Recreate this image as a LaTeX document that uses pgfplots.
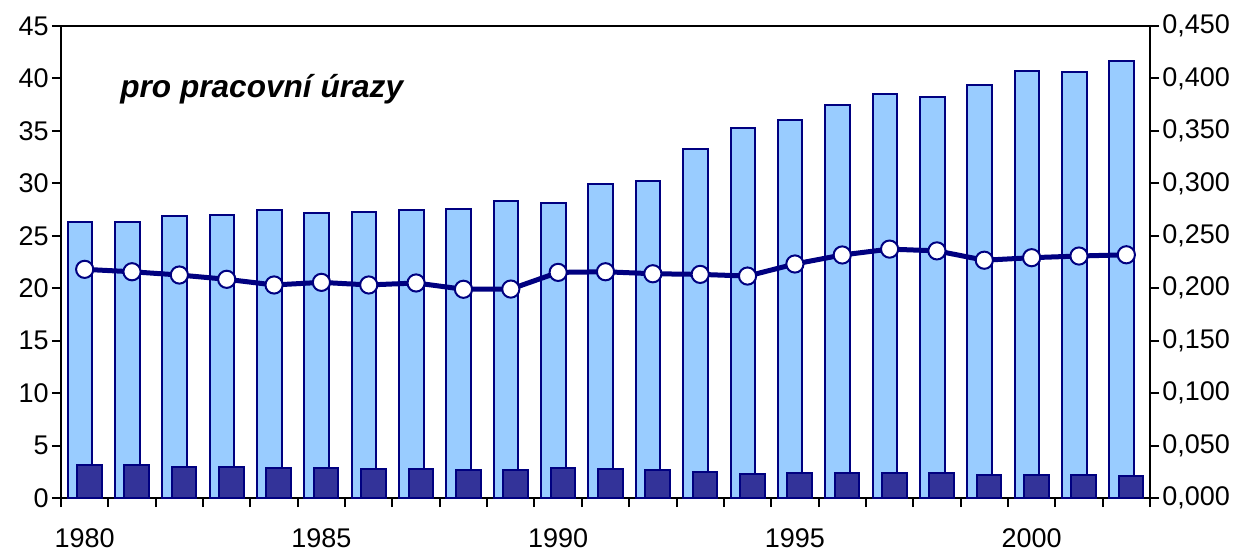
\documentclass[border=0pt]{standalone}
\usepackage{pgfplots}
\pgfplotsset{compat=1.18}
\usepackage{fontspec}
\setmainfont{Liberation Sans}
\definecolor{lightbar}{HTML}{99CCFF}
\definecolor{darkbar}{HTML}{333399}
\definecolor{navy}{HTML}{000080}
\pgfplotstableread{
x year light dark line
0 1980 26.3 3.10 0.218
1 1981 26.3 3.10 0.2157
2 1982 26.9 2.98 0.2126
3 1983 27.0 2.92 0.2085
4 1984 27.45 2.83 0.2031
5 1985 27.2 2.86 0.2056
6 1986 27.25 2.80 0.2031
7 1987 27.45 2.80 0.2050
8 1988 27.55 2.70 0.1990
9 1989 28.3 2.64 0.1992
10 1990 28.1 2.86 0.2151
11 1991 29.9 2.73 0.2157
12 1992 30.2 2.67 0.2138
13 1993 33.27 2.45 0.2132
14 1994 35.24 2.32 0.2116
15 1995 36.03 2.38 0.2231
16 1996 37.43 2.38 0.2317
17 1997 38.48 2.38 0.2373
18 1998 38.23 2.38 0.2356
19 1999 39.37 2.22 0.2267
20 2000 40.7 2.16 0.2291
21 2001 40.6 2.16 0.2307
22 2002 41.66 2.13 0.2319
}\datatable
\begin{document}
\begin{tikzpicture}
\pgfplotsset{
  every axis/.append style={
    scale only axis, width=544.5pt, height=236pt,
    xmin=-0.5, xmax=22.5,
    font=\fontsize{13.5}{15}\selectfont,
    tick label style={font=\fontsize{13.5}{15}\selectfont},
    axis line style={line width=1pt, black},
    tick style={line width=1pt, black},
    major tick length=4.5pt,
    tick align=outside,
    /pgf/number format/assume math mode=true,
  }
}
\begin{axis}[
  ymin=0, ymax=45,
  ytick={0,5,...,45},
  ytick pos=left,
  xtick pos=bottom,
  xtick={-0.5,0.5,...,22.5},
  xticklabels={},
  extra x ticks={0,5,10,15,20},
  extra x tick labels={1980,1985,1990,1995,2000},
  extra x tick style={major tick length=0pt, xticklabel style={inner sep=0pt, yshift=-15pt}},
  yticklabel style={inner sep=1.5pt},
  clip=false,
]
\addplot[ybar, bar width=0.52, bar shift=-0.1, fill=lightbar, draw=navy, line width=1pt] table[x=x, y=light] {\datatable};
\addplot[ybar, bar width=0.52, bar shift=0.1, fill=darkbar, draw=navy, line width=1pt] table[x=x, y=dark] {\datatable};
\node[anchor=base west, inner sep=0pt, font=\fontsize{15.8}{18}\selectfont\bfseries\itshape] at (axis cs:0.746,38.2) {pro pracovní úrazy};
\path (rel axis cs:0,0) ++(-30.5pt,-27.5pt) (rel axis cs:1,1) ++(43pt,13pt);
\end{axis}
\begin{axis}[
  ymin=0, ymax=0.45,
  ytick={0,0.05,...,0.45},
  axis y line*=right,
  axis x line=none,
  yticklabel style={inner sep=1.5pt, /pgf/number format/.cd, fixed, fixed zerofill, precision=3, use comma},
  clip=false,
]
\addplot[navy, line width=2.5pt, mark=*, mark size=4.3pt, mark options={fill=white, draw=navy, line width=1pt}] table[x=x, y=line] {\datatable};
\end{axis}
\end{tikzpicture}
\end{document}
